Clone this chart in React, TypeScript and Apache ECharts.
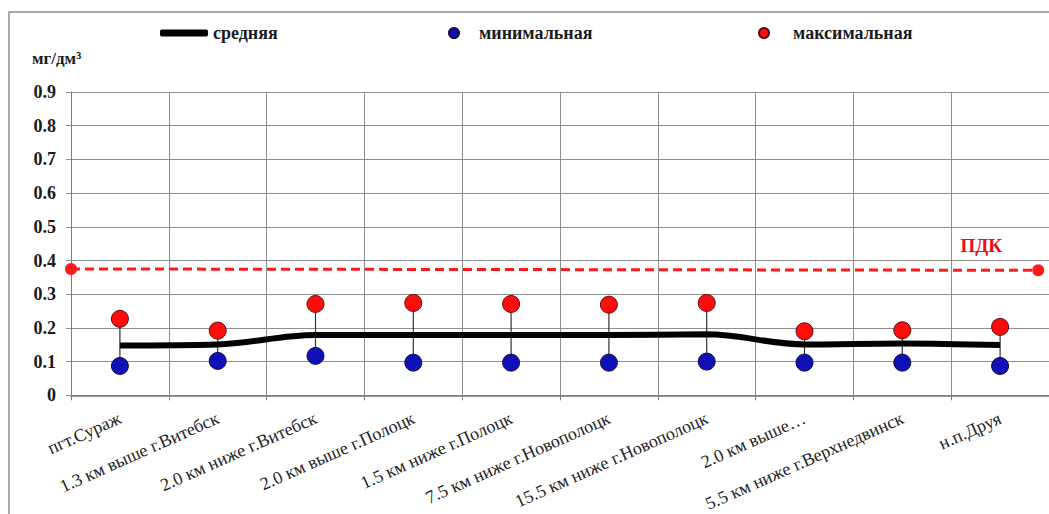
import React, { useEffect, useRef } from "react";
import * as echarts from "echarts";

const categories = [
  "пгт.Сураж",
  "1.3 км выше г.Витебск",
  "2.0 км ниже г.Витебск",
  "2.0 км выше г.Полоцк",
  "1.5 км ниже г.Полоцк",
  "7.5 км ниже г.Новополоцк",
  "15.5 км ниже г.Новополоцк",
  "2.0 км выше…",
  "5.5 км ниже г.Верхнедвинск",
  "н.п.Друя",
];
const meanValues = [0.148, 0.151, 0.179, 0.179, 0.179, 0.179, 0.181, 0.151, 0.154, 0.149];
const minValues = [0.087, 0.102, 0.117, 0.097, 0.097, 0.097, 0.1, 0.097, 0.097, 0.087];
const maxValues = [0.227, 0.192, 0.271, 0.274, 0.271, 0.269, 0.274, 0.19, 0.193, 0.203];
const pdkPoints: [number, number][] = [
  [0, 0.375],
  [9.89, 0.371],
];
const yTicks = [0, 0.1, 0.2, 0.3, 0.4, 0.5, 0.6, 0.7, 0.8, 0.9];

const FONT = "serif";

export default function App() {
  const ref = useRef<HTMLDivElement>(null);
  useEffect(() => {
    if (!ref.current) return;
    const chart = echarts.init(ref.current, null, { renderer: "svg" });
    const legendText = {
      fontFamily: FONT,
      fontWeight: "bold" as const,
      fontSize: 18,
      color: "#1a1a1a",
    };
    chart.setOption({
      animation: false,
      backgroundColor: "transparent",
      textStyle: { fontFamily: FONT },
      legend: [
        {
          left: 155,
          top: 19,
          selectedMode: false,
          data: [{ name: "средняя", icon: "roundRect" }],
          itemWidth: 48,
          itemHeight: 7,
          textStyle: legendText,
        },
        {
          left: 443,
          top: 19,
          selectedMode: false,
          data: [{ name: "минимальная", icon: "circle" }],
          itemWidth: 10,
          itemHeight: 10,
          textStyle: { ...legendText, padding: [0, 0, 0, 15] },
        },
        {
          left: 753,
          top: 19,
          selectedMode: false,
          data: [{ name: "максимальная", icon: "circle" }],
          itemWidth: 10,
          itemHeight: 10,
          textStyle: { ...legendText, padding: [0, 0, 0, 19] },
        },
      ],
      graphic: [
        {
          type: "text",
          left: 32,
          top: 50,
          style: {
            text: "мг/дм³",
            fontFamily: FONT,
            fontWeight: "bold",
            fontSize: 17,
            fill: "#1a1a1a",
          },
        },
      ],
      grid: { left: 71, top: 92, width: 980, height: 306, containLabel: false },
      xAxis: [
        {
          type: "category",
          data: categories,
          boundaryGap: true,
          axisLine: { show: true, lineStyle: { color: "#7a7a7a", width: 1.5 } },
          axisTick: { show: true, length: 5, alignWithLabel: false, lineStyle: { color: "#7a7a7a" } },
          splitLine: { show: true, lineStyle: { color: "#8e8e8e", width: 1 } },
          axisLabel: {
            interval: 0,
            rotate: 24,
            margin: 22,
            fontFamily: FONT,
            fontSize: 18,
            color: "#222",
          },
        },
        {
          type: "value",
          min: 0,
          max: 10,
          show: false,
        },
      ],
      yAxis: {
        type: "value",
        min: 0,
        max: 0.9,
        interval: 0.1,
        axisLine: { show: true, lineStyle: { color: "#7a7a7a" } },
        axisTick: { show: true, length: 5, lineStyle: { color: "#8e8e8e" } },
        splitLine: { show: true, lineStyle: { color: "#8e8e8e", width: 1 } },
        axisLabel: {
          margin: 15,
          fontFamily: FONT,
          fontWeight: "bold",
          fontSize: 18,
          color: "#1a1a1a",
          formatter: (v: number) => {
            const t = yTicks.find((x) => Math.abs(x - v) < 1e-9);
            return t === undefined ? "" : t === 0 ? "0" : t.toFixed(1);
          },
        },
      },
      series: [
        {
          name: "stems",
          type: "custom",
          xAxisIndex: 0,
          z: 1,
          data: categories.map((_, i) => [i, minValues[i], maxValues[i]]),
          renderItem: (params: any, api: any) => {
            const p1 = api.coord([api.value(0), api.value(1)]);
            const p2 = api.coord([api.value(0), api.value(2)]);
            return {
              type: "line",
              shape: { x1: p1[0], y1: p1[1], x2: p2[0], y2: p2[1] },
              style: { stroke: "#333", lineWidth: 1.2 },
            };
          },
          silent: true,
        },
        {
          name: "ПДК",
          type: "line",
          xAxisIndex: 1,
          z: 2,
          data: pdkPoints.map((p, i) =>
            i === pdkPoints.length - 1
              ? {
                  value: p,
                  label: {
                    show: true,
                    formatter: "ПДК",
                    position: "top",
                    offset: [-57, -4],
                    fontFamily: FONT,
                    fontWeight: "bold",
                    fontSize: 19,
                    color: "#e8101a",
                  },
                }
              : { value: p }
          ),
          symbol: "circle",
          symbolSize: 12,
          itemStyle: { color: "#ff1a1a" },
          lineStyle: { color: "#ff1a1a", width: 3, type: [9, 5] },
        },
        {
          name: "средняя",
          type: "line",
          xAxisIndex: 0,
          z: 3,
          data: meanValues,
          smooth: 0.35,
          showSymbol: false,
          symbol: "none",
          itemStyle: { color: "#000" },
          lineStyle: { color: "#000", width: 6 },
        },
        {
          name: "минимальная",
          type: "scatter",
          xAxisIndex: 0,
          z: 4,
          data: minValues,
          symbol: "circle",
          symbolSize: 17,
          itemStyle: { color: "#1010b8", borderColor: "#101040", borderWidth: 1, opacity: 1 },
        },
        {
          name: "максимальная",
          type: "scatter",
          xAxisIndex: 0,
          z: 4,
          data: maxValues,
          symbol: "circle",
          symbolSize: 17,
          itemStyle: { color: "#ff0d0d", borderColor: "#5a0f0f", borderWidth: 1, opacity: 1 },
        },
      ],
    });
    return () => chart.dispose();
  }, []);

  return (
    <div
      style={{
        position: "fixed",
        left: 0,
        top: 0,
        width: 1049,
        height: 514,
        overflow: "hidden",
        background: "#fff",
      }}
    >
      <div
        style={{
          position: "absolute",
          left: 8,
          top: 11,
          width: 1200,
          height: 700,
          borderTop: "2px solid #a8a8a8",
          borderLeft: "2px solid #a8a8a8",
        }}
      />
      <div ref={ref} style={{ position: "absolute", left: 0, top: 0, width: 1049, height: 514 }} />
    </div>
  );
}
